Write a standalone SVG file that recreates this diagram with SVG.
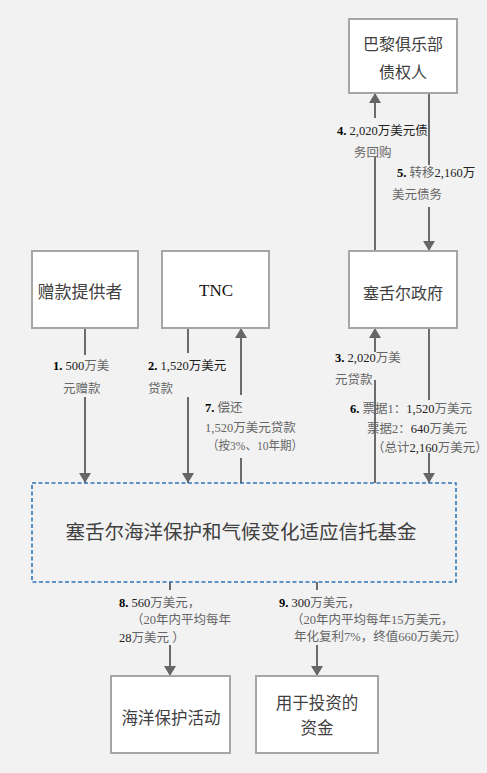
<svg xmlns="http://www.w3.org/2000/svg" width="487" height="773" viewBox="0 0 487 773">
<defs>
<style>
.node{fill:#ffffff;stroke:#a6a6a6;stroke-width:2}
.trust{fill:none;stroke:#2e75b6;stroke-width:1.6;stroke-dasharray:4 2.5}
.ntext{font-family:"Noto Sans CJK SC","Noto Sans",sans-serif;fill:#404040;text-anchor:middle}
.lbl{font-family:"Liberation Serif","Noto Sans CJK SC",serif;font-size:12.5px;fill:#666666}
.num{font-weight:bold;fill:#000}
.dg{fill:#222}
.edge{fill:none;stroke:#6b6b6b;stroke-width:2}
</style>
<marker id="arr" markerWidth="12" markerHeight="12" refX="10" refY="6" orient="auto" markerUnits="userSpaceOnUse">
<path d="M0,0 L10,6 L0,12 Z" fill="#666666"/>
</marker>
</defs>
<rect x="0" y="0" width="487" height="773" fill="#f2f2f2"/>

<g id="connectors">
<path class="edge" d="M85,328 V355"/>
<path class="edge" d="M85,397 V483" marker-end="url(#arr)"/>
<path class="edge" d="M188,328 V353"/>
<path class="edge" d="M188,397 V483" marker-end="url(#arr)"/>
<path class="edge" d="M241,483 V458"/>
<path class="edge" d="M241,395 V328" marker-end="url(#arr)"/>
<path class="edge" d="M375,483 V380"/>
<path class="edge" d="M375,352 V328" marker-end="url(#arr)"/>
<path class="edge" d="M429,328 V400"/>
<path class="edge" d="M429,453 V483" marker-end="url(#arr)"/>
<path class="edge" d="M375,251 V157"/>
<path class="edge" d="M375,118 V93" marker-end="url(#arr)"/>
<path class="edge" d="M429,93 V165"/>
<path class="edge" d="M429,207 V251" marker-end="url(#arr)"/>
<path class="edge" d="M170,582 V590"/>
<path class="edge" d="M170,645 V676" marker-end="url(#arr)"/>
<path class="edge" d="M317,582 V590"/>
<path class="edge" d="M317,645 V676" marker-end="url(#arr)"/>
</g>

<g id="paris">
<rect class="node" x="349" y="19" width="108" height="74"/>
<text class="ntext" x="403" y="50" font-size="16">巴黎俱乐部</text>
<text class="ntext" x="403" y="78" font-size="16">债权人</text>
</g>
<g id="donor">
<rect class="node" x="32" y="251" width="106" height="77"/>
<text class="ntext" x="80" y="298" font-size="17">赠款提供者</text>
</g>
<g id="tnc">
<rect class="node" x="162" y="251" width="107" height="77"/>
<text x="216" y="296" font-family="Liberation Serif,serif" font-size="17" fill="#111" text-anchor="middle">TNC</text>
</g>
<g id="gov">
<rect class="node" x="349" y="251" width="108" height="77"/>
<text class="ntext" x="403" y="299" font-size="16">塞舌尔政府</text>
</g>
<g id="trust">
<rect class="trust" x="32" y="483" width="424" height="99"/>
<text class="ntext" x="241" y="539" font-size="19.5">塞舌尔海洋保护和气候变化适应信托基金</text>
</g>
<g id="ocean">
<rect class="node" x="111" y="676" width="119" height="77"/>
<text class="ntext" x="171" y="724" font-size="16.5">海洋保护活动</text>
</g>
<g id="invest">
<rect class="node" x="256" y="676" width="122" height="77"/>
<text class="ntext" x="317" y="709" font-size="16.5">用于投资的</text>
<text class="ntext" x="317" y="734" font-size="16.5">资金</text>
</g>

<g id="labels">
<text class="lbl" x="53" y="370"><tspan class="num">1.</tspan> <tspan class="dg">500</tspan>万美</text>
<text class="lbl" x="63" y="393">元赠款</text>
<text class="lbl" x="148" y="370"><tspan class="num">2.</tspan> <tspan class="dg">1,520万美元</tspan></text>
<text class="lbl" x="148" y="393" fill="#333">贷款</text>
<text class="lbl" x="205" y="412"><tspan class="num">7.</tspan> 偿还</text>
<text class="lbl" x="205" y="432" font-family="Noto Sans CJK SC,sans-serif">1,520万美元贷款</text>
<text class="lbl" x="207" y="450" font-family="Noto Sans CJK SC,sans-serif" textLength="96" lengthAdjust="spacingAndGlyphs">（按3%、10年期）</text>
<text class="lbl" x="335" y="362"><tspan class="num">3.</tspan> <tspan class="dg">2,020</tspan>万美</text>
<text class="lbl" x="335" y="384">元贷款</text>
<text class="lbl" x="350" y="413"><tspan class="num">6.</tspan> 票据1：<tspan class="dg">1,520</tspan>万美元</text>
<text class="lbl" x="367" y="433">票据2：<tspan class="dg">640</tspan>万美元</text>
<text class="lbl" x="372" y="452" font-size="11.5">（总计<tspan class="dg">2,160</tspan>万美元）</text>
<text class="lbl" x="337" y="135"><tspan class="num">4.</tspan> <tspan class="dg">2,020万美元债</tspan></text>
<text class="lbl" x="354" y="157" fill="#404040">务回购</text>
<text class="lbl" x="397" y="177"><tspan class="num">5.</tspan> 转移<tspan class="dg">2,160万</tspan></text>
<text class="lbl" x="392" y="199">美元债务</text>
<text class="lbl" x="119" y="607"><tspan class="num" font-weight="normal">8.</tspan> <tspan class="dg">560</tspan>万美元，</text>
<text class="lbl" x="131" y="624">（20年内平均每年</text>
<text class="lbl" x="119" y="642"><tspan class="dg">28</tspan>万美元 ）</text>
<text class="lbl" x="279" y="607"><tspan class="num">9.</tspan> <tspan class="dg">300</tspan>万美元，</text>
<text class="lbl" x="291" y="624">（20年内平均每年15万美元，</text>
<text class="lbl" x="294" y="641">年化复利7%，终值660万美元）</text>
</g>
</svg>
